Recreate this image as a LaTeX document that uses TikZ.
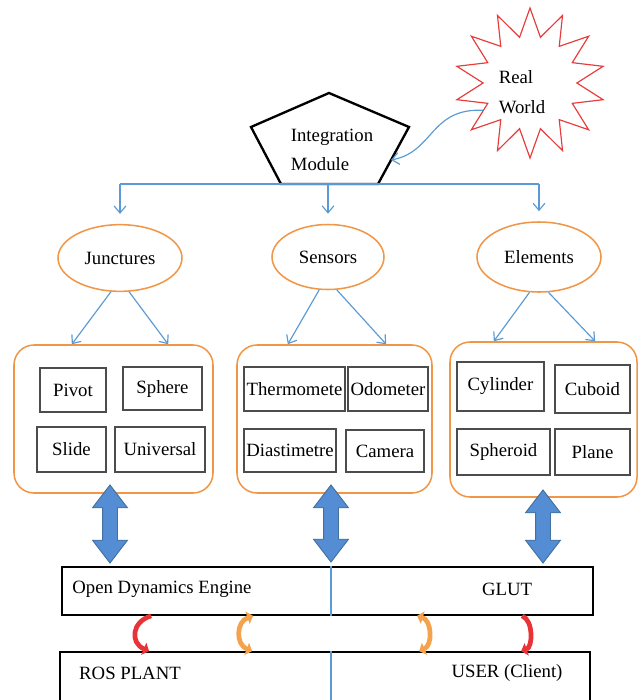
\documentclass[tikz,border=0pt]{standalone}
\usepackage{fontspec}
\setmainfont{Liberation Serif}
\usetikzlibrary{shapes.geometric,shapes.arrows,arrows.meta}
\definecolor{wireblue}{RGB}{91,155,213}
\definecolor{blockblue}{RGB}{84,141,212}
\definecolor{blockedge}{RGB}{65,113,156}
\definecolor{grporange}{RGB}{240,150,70}
\definecolor{loopred}{RGB}{232,52,56}
\definecolor{looporange}{RGB}{244,162,75}
\definecolor{starred}{RGB}{230,60,60}
\tikzset{
  wire/.style={draw=wireblue, line width=1pt},
  vtip/.style={-{Straight Barb[length=6pt,width=10pt]}},
  cat/.style={ellipse, draw=grporange, line width=1.3pt},
  grp/.style={draw=grporange, line width=1.3pt, rounded corners=0.6cm},
  item/.style={draw=black!70, line width=0.9pt, inner sep=1pt},
  layerbox/.style={draw=black, line width=1.5pt},
  twoline/.style={align=left, font=\fontsize{16}{25}\selectfont},
  dblarrow/.style={double arrow, rotate=90, fill=blockblue, draw=blockedge,
    line width=0.8pt, inner sep=0.21cm, double arrow head extend=0.3cm,
    double arrow tip angle=75},
  bendarrow/.style={line width=4pt, -{Triangle[length=5pt,width=11pt]}},
  bendboth/.style={line width=4pt, {Triangle[length=5pt,width=11pt]}-{Triangle[length=5pt,width=11pt]}},
}
\begin{document}
\begin{tikzpicture}[x=0.03cm, y=-0.03cm, font=\fontsize{16}{19}\selectfont]
\clip (0,0) rectangle (640,700);

% real world and the module
\node[star, star points=14, star point ratio=1.6, draw=starred, line width=1pt,
  minimum size=4.5cm] (rw) at (530,83) {};
\node[twoline] (rwtext) at (522,92) {Real\\World};
\coordinate (p1) at (329,93);
\coordinate (p2) at (409,127);
\coordinate (p3) at (378,184);
\coordinate (p4) at (281,184);
\coordinate (p5) at (251,127);
\draw[line width=2pt] (p1) -- (p2) -- (p3) -- (p4) -- (p5) -- cycle;
\node[twoline] (integ) at (332,150) {Integration\\Module};
\coordinate (pin) at (391,160);
\draw[wire, vtip] (rw.210) .. controls (430,108) and (434,152) .. (pin);

% categories
\node[cat, minimum width=3.72cm, minimum height=2cm] (jun) at (120,258) {Junctures};
\node[cat, minimum width=3.36cm, minimum height=1.95cm] (sen) at (328,257) {Sensors};
\node[cat, minimum width=3.72cm, minimum height=2.1cm] (ele) at (539,257) {Elements};
\draw[wire] (jun.north |- p4) -- (ele.north |- p4);
\foreach \n in {jun,sen,ele}
  \draw[wire, vtip, shorten >=0.3cm] (\n.north |- p4) -- (\n.north);

% groups
\node[grp, minimum width=5.97cm, minimum height=4.44cm] (jgrp) at (113.5,419) {};
\node[grp, minimum width=5.85cm, minimum height=4.44cm] (sgrp) at (334.5,419) {};
\node[grp, minimum width=5.61cm, minimum height=4.65cm] (egrp) at (543.5,419.5) {};
\draw[wire, vtip] (jun.255) -- ([xshift=-1.25cm]jgrp.north);
\draw[wire, vtip] (jun.285) -- ([xshift=1.64cm]jgrp.north);
\draw[wire, vtip] (sen.255) -- ([xshift=-1.4cm]sgrp.north);
\draw[wire, vtip] (sen.285) -- ([xshift=1.55cm]sgrp.north);
\draw[wire, vtip] (ele.255) -- ([xshift=-1.49cm]egrp.north);
\draw[wire, vtip] (ele.285) -- ([xshift=1.55cm]egrp.north);

\node[item, minimum width=1.98cm, minimum height=1.32cm] (pivot) at (73,390) {Pivot};
\node[item, minimum width=2.37cm, minimum height=1.29cm] (sphere) at (162.5,388.5) {Sphere};
\node[item, minimum width=2.07cm, minimum height=1.35cm] (slide) at (71.5,449.5) {Slide};
\node[item, minimum width=2.7cm, minimum height=1.35cm] (universal) at (160,449.5) {Universal};
\node[item, minimum width=3.03cm, minimum height=1.32cm] (thermo) at (294.5,389) {Thermomete};
\node[item, minimum width=2.4cm, minimum height=1.32cm] (odo) at (388,389) {Odometer};
\node[item, minimum width=2.76cm, minimum height=1.29cm] (dia) at (290,450.5) {Diastimetre};
\node[item, minimum width=2.34cm, minimum height=1.26cm] (camera) at (385,451) {Camera};
\node[item, minimum width=2.61cm, minimum height=1.47cm] (cylinder) at (500.5,386.5) {Cylinder};
\node[item, minimum width=2.25cm, minimum height=1.44cm] (cuboid) at (592.5,389) {Cuboid};
\node[item, minimum width=2.79cm, minimum height=1.38cm] (spheroid) at (503.5,452) {Spheroid};
\node[item, minimum width=2.25cm, minimum height=1.38cm] (plane) at (592.5,452) {Plane};

% block arrows
\node[dblarrow, minimum height=2.34cm] (dj) at (110,524) {};
\node[dblarrow, minimum height=2.31cm] (ds) at (331,523.5) {};
\node[dblarrow, minimum height=2.19cm] (de) at (543,526.5) {};

% layers
\node[layerbox, minimum width=15.93cm, minimum height=1.44cm] (ode) at (327.5,591) {};
\node[layerbox, minimum width=15.9cm, minimum height=1.92cm] (rosbox) at (325,684) {};
\draw[wire] (ds.center |- ode.north) -- (ds.center |- ode.south);
\draw[wire] (ds.center |- rosbox.north) -- (ds.center |- rosbox.south);
\node (odetext) at (162,589) {Open Dynamics Engine};
\node (glut) at (507,589) {GLUT};
\node (rostext) at (130,673) {ROS PLANT};
\node (user) at (507,673) {USER (Client)};

\draw[bendarrow, loopred] ([xshift=2.7cm]ode.south west)
  to[bend right=70, looseness=1.5] ([xshift=2.7cm]rosbox.north west);
\draw[bendboth, looporange] ([xshift=5.76cm]ode.south west)
  to[bend right=70, looseness=1.3] ([xshift=5.79cm]rosbox.north west);
\draw[bendboth, looporange] ([xshift=10.68cm]ode.south west)
  to[bend left=70, looseness=1.1] ([xshift=10.8cm]rosbox.north west);
\draw[bendarrow, loopred] ([xshift=13.83cm]ode.south west)
  to[bend left=70, looseness=0.9] ([xshift=13.86cm]rosbox.north west);
\end{tikzpicture}
\end{document}
